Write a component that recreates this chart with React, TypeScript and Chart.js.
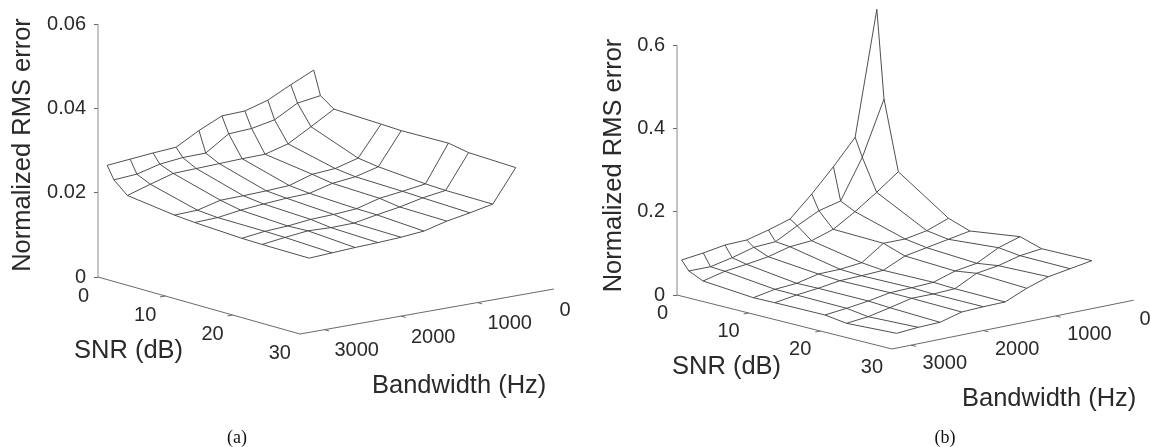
import React, { useEffect, useRef } from "react";
import { Chart, registerables } from "chart.js";

Chart.register(...registerables);

const snrNodes = [0, 1, 3, 10, 13, 20, 23, 30];
const bandwidthNodes = [3200, 2900, 2600, 2300, 2000, 1700, 1400, 1100, 800, 500];
const snrTicks = [0, 10, 20, 30];
const bandwidthTicks = [3000, 2000, 1000, 0];
const errorTicksA = [0, 0.02, 0.04, 0.06];
const errorTicksB = [0, 0.2, 0.4, 0.6];

const errA_snr0 = [0.0261, 0.0266, 0.0271, 0.0275, 0.0305, 0.033, 0.0332, 0.0348, 0.0375, 0.04];
const errA_snr1 = [0.0231, 0.0235, 0.0249, 0.0255, 0.0256, 0.0292, 0.0295, 0.0306, 0.0336, 0.0344];
const errA_snr3 = [0.0203, 0.022, 0.0236, 0.0238, 0.024, 0.0242, 0.0243, 0.0258, 0.0289, 0.0321];
const errA_snr10 = [0.0188, 0.019, 0.0204, 0.0205, 0.0207, 0.021, 0.0227, 0.0231, 0.0246, 0.0317];
const errA_snr13 = [0.0184, 0.0186, 0.0194, 0.0199, 0.0203, 0.0205, 0.0219, 0.0225, 0.0239, 0.0315];
const errA_snr20 = [0.0178, 0.0185, 0.0188, 0.0194, 0.0196, 0.02, 0.0215, 0.0222, 0.023, 0.0317];
const errA_snr23 = [0.0177, 0.0184, 0.019, 0.0188, 0.0189, 0.0199, 0.0208, 0.022, 0.0228, 0.0308];
const errA_snr30 = [0.0176, 0.0179, 0.0182, 0.0184, 0.0187, 0.0192, 0.0206, 0.0216, 0.0227, 0.0304];

const errB_snr0 = [0.0818, 0.0881, 0.0967, 0.0982, 0.1117, 0.1276, 0.1771, 0.2321, 0.2922, 0.5888];
const errB_snr1 = [0.0597, 0.0595, 0.0706, 0.085, 0.088, 0.1158, 0.1413, 0.1541, 0.2485, 0.3779];
const errB_snr3 = [0.0443, 0.0571, 0.0634, 0.0711, 0.0846, 0.0885, 0.1053, 0.1371, 0.1731, 0.212];
const errB_snr10 = [0.0345, 0.0441, 0.048, 0.0598, 0.0606, 0.0659, 0.102, 0.1018, 0.1112, 0.1304];
const errB_snr13 = [0.0354, 0.0434, 0.049, 0.0567, 0.0582, 0.0606, 0.0845, 0.0939, 0.1035, 0.1129];
const errB_snr20 = [0.0362, 0.0417, 0.0487, 0.0582, 0.0596, 0.0621, 0.0787, 0.0867, 0.1136, 0.1295];
const errB_snr23 = [0.0292, 0.0345, 0.0456, 0.0577, 0.0575, 0.0597, 0.0861, 0.0939, 0.1074, 0.1136];
const errB_snr30 = [0.0354, 0.0393, 0.0408, 0.055, 0.0572, 0.058, 0.0804, 0.0977, 0.1064, 0.1151];

const surfaceA = [errA_snr0, errA_snr1, errA_snr3, errA_snr10, errA_snr13, errA_snr20, errA_snr23, errA_snr30];
const surfaceB = [errB_snr0, errB_snr1, errB_snr3, errB_snr10, errB_snr13, errB_snr20, errB_snr23, errB_snr30];

const MESH = "#3c3c3c";
const AXIS = "#6a6a6a";
const INK = "#2a2a2a";
const SANS = '"Liberation Sans", Arial, sans-serif';

const panelA = {
  surface: surfaceA, ticks: errorTicksA, caption: "(a)",
  left: 0, width: 575, axisX: 98, floorY: 277, zScale: 253 / 0.06,
  sx: 6.733, sy: 1.9, bx: 0.0765, by: 0.01355, bMax: 3320, bEnd: 0,
  titleX: 30, titleY: 145, snrTitle: [74, 358], bwTitle: [372, 393], captionPos: [237, 443],
  snrDy: 25, bwDx: 10, bwDy: 26.5, zeroDx: 5.5,
};
const panelB = {
  surface: surfaceB, ticks: errorTicksB, caption: "(b)",
  left: 575, width: 576, axisX: 677, floorY: 295, zScale: 250 / 0.6,
  sx: 7.167, sy: 1.8, bx: 0.0723, by: 0.0146, bMax: 3264, bEnd: -80,
  titleX: 621, titleY: 165.5, snrTitle: [672, 374], bwTitle: [962, 406], captionPos: [945, 443],
  snrDy: 24, bwDx: 11.5, bwDy: 24, zeroDx: 11.5,
};

type Panel = typeof panelA;

const px = (p: Panel, s: number, b: number) => p.axisX + p.sx * s + p.bx * (p.bMax - b);
const py = (p: Panel, s: number, b: number, z: number) =>
  z - (p.sy * s - p.by * (p.bMax - b)) / p.zScale;
const pt = (p: Panel, s: number, b: number, z = 0) => ({ x: px(p, s, b), y: py(p, s, b, z) });

function lineSet(data: { x: number; y: number }[], color: string, width: number) {
  return { data, showLine: true, pointRadius: 0, borderColor: color, borderWidth: width, clip: false, tension: 0 };
}

function buildDatasets(p: Panel) {
  const out: any[] = [];
  snrNodes.forEach((s, i) => {
    out.push(lineSet(bandwidthNodes.map((b, k) => pt(p, s, b, p.surface[i][k])), MESH, 0.9));
  });
  bandwidthNodes.forEach((b, k) => {
    out.push(lineSet(snrNodes.map((s, i) => pt(p, s, b, p.surface[i][k])), MESH, 0.9));
  });
  const top = p.ticks[p.ticks.length - 1];
  out.push(lineSet([pt(p, 0, p.bMax, 0), pt(p, 0, p.bMax, top)], "#8a8a8a", 1));
  out.push(lineSet([pt(p, 0, p.bMax), pt(p, 30, p.bMax), pt(p, 30, p.bEnd)], AXIS, 1));
  snrTicks.slice(1, 3).forEach((s) => {
    out.push(lineSet([pt(p, s, p.bMax), pt(p, s, p.bMax + 70)], AXIS, 1));
  });
  bandwidthTicks.slice(0, 3).forEach((b) => {
    out.push(lineSet([pt(p, 30, b), pt(p, 30.7, b)], AXIS, 1));
  });
  return out;
}

function textPlugin(p: Panel) {
  return {
    id: "labels3d",
    afterDraw(chart: any) {
      const ctx = chart.ctx;
      const X = (x: number) => x - p.left;
      const Yz = (s: number, b: number) => chart.scales.y.getPixelForValue(py(p, s, b, 0));
      ctx.save();
      ctx.fillStyle = INK;
      ctx.textBaseline = "alphabetic";

      ctx.font = `20px ${SANS}`;
      ctx.textAlign = "right";
      snrTicks.forEach((s) => {
        ctx.fillText(String(s), X(px(p, s, p.bMax)) - 9, Yz(s, p.bMax) + p.snrDy);
      });
      ctx.textAlign = "left";
      bandwidthTicks.forEach((b) => {
        const dx = b === 0 ? p.zeroDx : p.bwDx;
        ctx.fillText(String(b), X(px(p, 30, b)) + dx, Yz(30, b) + p.bwDy);
      });

      ctx.font = `25.5px ${SANS}`;
      ctx.fillText("SNR (dB)", X(p.snrTitle[0]), p.snrTitle[1]);
      ctx.fillText("Bandwidth (Hz)", X(p.bwTitle[0]), p.bwTitle[1]);

      ctx.save();
      ctx.translate(X(p.titleX), p.titleY);
      ctx.rotate(-Math.PI / 2);
      ctx.textAlign = "center";
      ctx.fillText("Normalized RMS error", 0, 0);
      ctx.restore();

      ctx.font = '18px "Liberation Serif", serif';
      ctx.textAlign = "center";
      ctx.fillStyle = "#111111";
      ctx.fillText(p.caption, X(p.captionPos[0]), p.captionPos[1]);
      ctx.restore();
    },
  };
}

function SurfacePanel({ panel }: { panel: Panel }) {
  const ref = useRef<HTMLCanvasElement | null>(null);
  useEffect(() => {
    const p = panel;
    const chart = new Chart(ref.current as HTMLCanvasElement, {
      type: "scatter",
      data: { datasets: buildDatasets(p) },
      options: {
        animation: false,
        responsive: false,
        devicePixelRatio: 1,
        layout: { padding: 0 },
        plugins: { legend: { display: false }, tooltip: { enabled: false }, title: { display: false } },
        scales: {
          x: { type: "linear", display: false, min: p.axisX, max: p.left + p.width },
          y: {
            type: "linear",
            min: -(447 - p.floorY) / p.zScale,
            max: p.floorY / p.zScale,
            afterBuildTicks: (s: any) => {
              s.ticks = p.ticks.map((value) => ({ value }));
            },
            afterFit: (s: any) => {
              s.width = p.axisX - p.left;
              s.paddingTop = 0;
              s.paddingBottom = 0;
            },
            border: { display: false },
            grid: { drawOnChartArea: false, drawTicks: true, tickLength: 4, color: "#666666", lineWidth: 1 },
            ticks: {
              autoSkip: false,
              maxRotation: 0,
              padding: 8,
              color: INK,
              font: { family: SANS, size: 20 },
              callback: (v: any) => String(v),
            },
          },
        },
      } as any,
      plugins: [textPlugin(p)],
    } as any);
    return () => chart.destroy();
  }, [panel]);
  return (
    <canvas
      ref={ref}
      width={panel.width}
      height={447}
      style={{ position: "absolute", left: panel.left, top: 0, display: "block" }}
    />
  );
}

export default function App() {
  return (
    <div style={{ position: "fixed", left: 0, top: 0, width: 1151, height: 447, background: "#fff", overflow: "hidden" }}>
      <SurfacePanel panel={panelA} />
      <SurfacePanel panel={panelB} />
    </div>
  );
}
